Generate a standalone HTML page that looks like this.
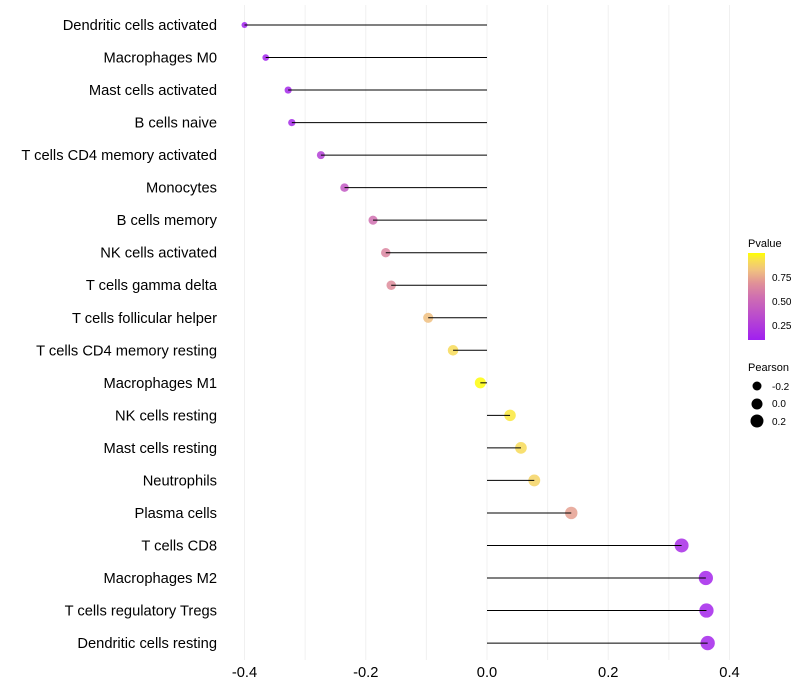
<!DOCTYPE html>
<html><head><meta charset="utf-8"><style>
body{margin:0;background:#fff;}
svg{display:block;font-family:"Liberation Sans",sans-serif;}
</style></head><body>
<svg id="chart" width="800" height="700">
<defs><linearGradient id="pg" x1="0" y1="1" x2="0" y2="0">
<stop offset="0" stop-color="#a020f0"/><stop offset="0.5" stop-color="#d070b0"/><stop offset="0.65" stop-color="#e09098"/><stop offset="0.8" stop-color="#f0c080"/><stop offset="0.92" stop-color="#f8e050"/><stop offset="1" stop-color="#ffff00"/>
</linearGradient></defs>
<g id="grid"></g><g id="marks"></g><g id="ylab"></g><g id="xlab"></g>
<g font-size="10">
<text x="748" y="247" font-size="11">Pvalue</text>
<rect x="748" y="253" width="17" height="87" fill="url(#pg)"/>
<text x="772" y="281">0.75</text>
<text x="772" y="305">0.50</text>
<text x="772" y="329">0.25</text>
<text x="748" y="371" font-size="11">Pearson</text>
<circle cx="757" cy="386" r="4.5"/><text x="772" y="390">-0.2</text>
<circle cx="757" cy="404" r="5.5"/><text x="772" y="407">0.0</text>
<circle cx="757" cy="421" r="6.5"/><text x="772" y="425">0.2</text>
</g>
</svg>
<script>
const categories=["Dendritic cells activated","Macrophages M0","Mast cells activated","B cells naive","T cells CD4 memory activated","Monocytes","B cells memory","NK cells activated","T cells gamma delta","T cells follicular helper","T cells CD4 memory resting","Macrophages M1","NK cells resting","Mast cells resting","Neutrophils","Plasma cells","T cells CD8","Macrophages M2","T cells regulatory  Tregs ","Dendritic cells resting"];
const pearson=[-0.40,-0.365,-0.328,-0.322,-0.274,-0.235,-0.188,-0.167,-0.158,-0.097,-0.056,-0.011,0.038,0.056,0.078,0.139,0.321,0.361,0.362,0.364];
const pvalue=[0.01,0.02,0.05,0.06,0.2,0.35,0.5,0.6,0.63,0.8,0.9,0.99,0.94,0.9,0.87,0.7,0.08,0.04,0.04,0.04];
const xTicks=[-0.4,-0.2,0.0,0.2,0.4];
const xTickLabels=["-0.4","-0.2","0.0","0.2","0.4"];
const gridVals=[-0.4,-0.3,-0.2,-0.1,0,0.1,0.2,0.3,0.4];
const NS="http://www.w3.org/2000/svg";
const xs=v=>487+v*606.25;
const ys=i=>25+i*32.53;
const stops=[[0,[160,32,240]],[0.5,[208,112,176]],[0.65,[224,144,152]],[0.8,[240,192,128]],[0.92,[248,224,80]],[1,[255,255,0]]];
function col(p){for(let i=1;i<stops.length;i++){if(p<=stops[i][0]){const a=stops[i-1],b=stops[i],t=(p-a[0])/(b[0]-a[0]);return "rgb("+a[1].map((c,k)=>Math.round(c+(b[1][k]-c)*t)).join(",")+")";}}return "rgb(255,255,0)";}
const rad=v=>Math.sqrt(Math.max(4,31+55*v));
function mk(t,a,p){const e=document.createElementNS(NS,t);for(const k in a)e.setAttribute(k,a[k]);p.appendChild(e);return e;}
const grid=document.getElementById("grid"),marks=document.getElementById("marks"),yl=document.getElementById("ylab"),xl=document.getElementById("xlab");
gridVals.forEach(v=>{const l=mk("line",{x1:xs(v),x2:xs(v),y1:5,y2:660,stroke:"#f0f0f0","stroke-width":1},grid);

});
xTicks.forEach((v,i)=>{const t=mk("text",{x:xs(v),y:677,"text-anchor":"middle","font-size":14.7,fill:"#000"},xl);t.textContent=xTickLabels[i];

});
categories.forEach((c,i)=>{const y=ys(i);
const t=mk("text",{x:217,y:y+5,"text-anchor":"end","font-size":14.7,fill:"#000"},yl);t.textContent=c;


const p=mk("circle",{cx:xs(pearson[i]),cy:y,r:rad(pearson[i]),fill:col(pvalue[i]),"fill-opacity":0.85},marks);


const s=mk("line",{x1:xs(0),x2:xs(pearson[i]),y1:y,y2:y,stroke:"#000","stroke-width":1},marks);

});
</script>
</body></html>
